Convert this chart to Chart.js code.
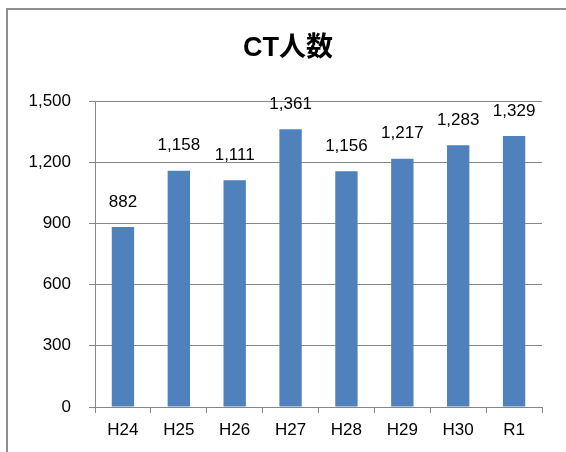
<!DOCTYPE html>
<html>
<head>
<meta charset="utf-8">
<script src="https://cdn.jsdelivr.net/npm/chart.js@4"></script>
<style>
  html, body { margin: 0; padding: 0; background: #fff; overflow: hidden; }
  #frame { position: absolute; left: 6px; top: 8px; width: 620px; height: 520px; border: 2px solid #8e8e8e; }
  #wrap { position: absolute; left: 0; top: 0; width: 566px; height: 452px; }
</style>
</head>
<body>
<div id="frame"></div>
<div id="wrap"><canvas id="chart"></canvas></div>
<script>
// data
const years = ['H24', 'H25', 'H26', 'H27', 'H28', 'H29', 'H30', 'R1'];
const ctCounts = [882, 1158, 1111, 1361, 1156, 1217, 1283, 1329];
const yTicks = [0, 300, 600, 900, 1200, 1500];
const chartTitle = 'CT人数';

const numFont = "'Liberation Sans', Arial, sans-serif";

// title + value labels
const labelsPlugin = {
  id: 'labels',
  afterDatasetsDraw(chart) {
    const ctx = chart.ctx;
    const meta = chart.getDatasetMeta(0);
    ctx.save();
    ctx.fillStyle = '#000';
    ctx.textAlign = 'center';
    ctx.textBaseline = 'middle';
    ctx.font = '17px ' + numFont;
    meta.data.forEach((bar, i) => {
      ctx.fillText(ctCounts[i].toLocaleString('en-US'), bar.x, bar.y - 25);
    });
    ctx.font = "bold 27px 'Liberation Sans', 'Noto Sans CJK JP', sans-serif";
    ctx.fillText(chartTitle, 288, 49);
    ctx.restore();
  }
};

new Chart(document.getElementById('chart'), {
  type: 'bar',
  data: {
    labels: years,
    datasets: [{
      data: ctCounts,
      backgroundColor: '#4f81bd',
      categoryPercentage: 1,
      barPercentage: 0.4
    }]
  },
  options: {
    responsive: true,
    maintainAspectRatio: false,
    animation: false,
    layout: { padding: { top: 101, right: 24, bottom: 0, left: 0 } },
    plugins: {
      legend: { display: false },
      title: { display: false },
      tooltip: { enabled: false }
    },
    scales: {
      x: {
        afterFit(scale) { scale.height = 45; },
        grid: { offset: true, drawOnChartArea: false, tickLength: 6, color: '#868686' },
        border: { color: '#868686', width: 1 },
        ticks: { color: '#000', padding: 7, font: { family: numFont, size: 17 } }
      },
      y: {
        min: 0,
        max: 1500,
        afterFit(scale) { scale.width = 95; },
        afterBuildTicks(scale) { scale.ticks = yTicks.map(v => ({ value: v })); },
        grid: { color: '#868686', tickLength: 6 },
        border: { color: '#868686', width: 1 },
        ticks: {
          color: '#000',
          padding: 18,
          font: { family: numFont, size: 17 },
          callback: v => v.toLocaleString('en-US')
        }
      }
    }
  },
  plugins: [labelsPlugin]
});
</script>
</body>
</html>
